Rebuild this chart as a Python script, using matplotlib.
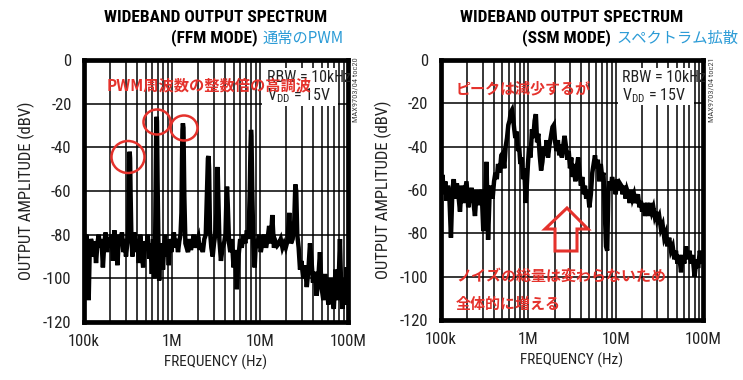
import matplotlib
matplotlib.use("Agg")
import matplotlib.pyplot as plt
from matplotlib import font_manager
from matplotlib.patches import Ellipse, Polygon, Rectangle
from matplotlib.ticker import FixedLocator, LogLocator, NullFormatter, FixedFormatter

# ---------------- data ----------------
# FFM mode spectrum (frequency in kHz, amplitude in dBV)
ffm_freq_khz = [
    100, 103, 106, 110, 113, 116, 120, 124, 128, 132,
    137, 142, 147, 152, 158, 164, 170, 176, 183, 190,
    197, 205, 213, 221, 230, 240, 250, 260, 270, 280,
    290, 300, 310, 318, 322, 326, 330, 334, 338, 345,
    355, 365, 375, 390, 405, 420, 435, 450, 470, 490,
    510, 530, 550, 570, 590, 610, 630, 645, 655, 662,
    668, 675, 685, 700, 715, 730, 750, 770, 790, 810,
    835, 860, 890, 920, 950, 980, 1010, 1050, 1090, 1130,
    1170, 1210, 1250, 1280, 1300, 1315, 1330, 1350, 1380, 1420,
    1470, 1520, 1580, 1640, 1700, 1770, 1840, 1910, 1990, 2070,
    2150, 2240, 2330, 2420, 2500, 2560, 2600, 2640, 2700, 2800,
    2900, 3000, 3100, 3200, 3260, 3300, 3350, 3450, 3600, 3750,
    3900, 4050, 4150, 4220, 4300, 4450, 4600, 4800, 5000, 5200,
    5450, 5700, 5950, 6200, 6500, 6800, 7100, 7400, 7650, 7800,
    7900, 8000, 8150, 8400, 8700, 9000, 9400, 9800, 10200, 10700,
    11200, 11700, 12200, 12700, 13200, 13800, 14400, 15000, 15700, 16400,
    17200, 18000, 18800, 19600, 20500, 21500, 22500, 23500, 24500, 25200,
    25800, 26500, 27500, 28500, 29500, 31000, 32500, 34000, 35500, 37000,
    38500, 40000, 42000, 44000, 46000, 48000, 50000, 52500, 55000, 57500,
    60000, 63000, 66000, 69000, 72000, 75000, 78000, 81000, 84000, 87000,
    90000, 93000, 96000, 100000,
]
ffm_dbv = [
    -84, -92, -80, -86, -110, -88, -82, -84, -90, -83,
    -93, -84, -80, -86, -82, -95, -84, -79, -88, -81,
    -86, -80, -92, -78, -84, -94, -80, -85, -79, -88,
    -82, -90, -84, -78, -62, -48, -42, -45, -60, -80,
    -90, -84, -79, -88, -82, -93, -80, -86, -95, -83,
    -87, -80, -91, -84, -98, -82, -100, -78, -50, -30,
    -26, -28, -55, -82, -101, -88, -92, -84, -96, -86,
    -80, -90, -84, -94, -82, -88, -84, -79, -86, -82,
    -88, -83, -80, -70, -45, -32, -29, -31, -62, -84,
    -86, -88, -82, -87, -84, -80, -86, -83, -81, -87,
    -84, -88, -82, -80, -60, -45, -44, -50, -78, -86,
    -90, -84, -80, -70, -52, -49, -60, -82, -92, -86,
    -84, -80, -64, -58, -66, -84, -88, -82, -95, -87,
    -105, -90, -82, -86, -80, -84, -78, -82, -60, -40,
    -32, -35, -58, -84, -95, -82, -86, -80, -88, -83,
    -80, -86, -82, -76, -84, -71, -86, -83, -85, -84,
    -82, -86, -84, -86, -83, -70, -84, -82, -74, -57,
    -60, -80, -86, -96, -92, -100, -94, -104, -96, -84,
    -92, -102, -97, -108, -100, -88, -104, -110, -98, -106,
    -112, -100, -108, -114, -96, -110, -104, -82, -108, -114,
    -100, -112, -95, -104,
]

# SSM mode spectrum (frequency in kHz, amplitude in dBV)
ssm_freq_khz = [
    100, 104, 108, 112, 116, 120, 125, 130, 135, 140,
    146, 152, 158, 165, 172, 180, 188, 196, 205, 214,
    224, 234, 245, 256, 268, 280, 292, 305, 318, 332,
    346, 360, 375, 390, 405, 420, 435, 450, 470, 490,
    510, 530, 550, 570, 590, 610, 630, 650, 670, 690,
    710, 735, 760, 785, 810, 840, 870, 900, 930, 960,
    990, 1020, 1060, 1100, 1140, 1180, 1220, 1260, 1300, 1350,
    1400, 1450, 1500, 1560, 1620, 1680, 1750, 1820, 1890, 1960,
    2030, 2100, 2180, 2260, 2340, 2420, 2500, 2600, 2700, 2800,
    2900, 3000, 3100, 3200, 3320, 3450, 3580, 3720, 3860, 4000,
    4150, 4300, 4450, 4600, 4800, 5000, 5200, 5400, 5600, 5800,
    6000, 6250, 6500, 6750, 7000, 7250, 7500, 7750, 8000, 8250,
    8500, 8800, 9100, 9400, 9700, 10000, 10400, 10800, 11200, 11600,
    12000, 12500, 13000, 13500, 14000, 14500, 15000, 15600, 16200, 16800,
    17400, 18000, 18700, 19400, 20100, 20800, 21600, 22400, 23200, 24000,
    25000, 26000, 27000, 28000, 29000, 30000, 31500, 33000, 34500, 36000,
    37500, 39000, 41000, 43000, 45000, 47000, 49000, 51000, 53500, 56000,
    58500, 61000, 64000, 67000, 70000, 73000, 76000, 80000, 84000, 88000,
    92000, 96000, 100000,
]
ssm_dbv = [
    -58, -53, -62, -56, -65, -58, -64, -82, -60, -55,
    -64, -57, -62, -70, -58, -66, -61, -56, -68, -63,
    -59, -65, -72, -60, -67, -62, -60, -79, -66, -47,
    -83, -62, -58, -64, -56, -52, -55, -48, -52, -44,
    -43, -50, -40, -36, -30, -28, -24, -23, -27, -32,
    -36, -33, -42, -40, -48, -45, -55, -50, -66, -58,
    -48, -40, -45, -32, -36, -28, -25, -38, -34, -44,
    -51, -47, -40, -44, -37, -45, -39, -35, -31, -30,
    -38, -42, -37, -44, -39, -45, -40, -35, -40, -46,
    -42, -50, -45, -54, -48, -56, -50, -45, -52, -58,
    -54, -62, -58, -64, -60, -68, -62, -52, -48, -44,
    -50, -46, -56, -48, -54, -52, -70, -86, -88, -60,
    -56, -60, -54, -58, -56, -62, -55, -60, -57, -58,
    -62, -58, -64, -60, -62, -66, -60, -64, -62, -66,
    -64, -62, -68, -65, -70, -66, -72, -68, -66, -72,
    -66, -70, -68, -72, -70, -74, -72, -78, -76, -82,
    -80, -86, -82, -88, -86, -92, -88, -94, -90, -98,
    -90, -94, -86, -92, -88, -94, -90, -100, -92, -96,
    -88, -94, -90,
]

x_tick_hz = [1e5, 1e6, 1e7, 1e8]
x_tick_labels = ["100k", "1M", "10M", "100M"]
y_ticks = [0, -20, -40, -60, -80, -100, -120]
y_tick_labels = ["0", "-20", "-40", "-60", "-80", "-100", "-120"]

# ---------------- fonts ----------------
names = {f.name for f in font_manager.fontManager.ttflist}
NARROW = "Liberation Sans"
for cand in ["Roboto Condensed", "Archivo Narrow", "Liberation Sans Narrow",
             "Barlow Semi Condensed", "Asap Condensed"]:
    if cand in names:
        NARROW = cand
        break
JP = "Noto Sans CJK JP"
plt.rcParams["font.family"] = [NARROW, "DejaVu Sans"]
plt.rcParams["mathtext.fontset"] = "custom"
plt.rcParams["mathtext.rm"] = NARROW

W, H = 743, 380
fig = plt.figure(figsize=(W / 100, H / 100), dpi=100)
fig.patch.set_facecolor("white")


def P(x, y):
    return (x / W, 1 - y / H)


RED = "#e5322c"
BLUE = "#2b9bd6"


def make_axes(rect, freq_khz, dbv):
    ax = fig.add_axes(rect)
    f_hz = [v * 1000 for v in freq_khz]
    ax.set_xscale("log")
    ax.set_xlim(1e5, 1e8)
    ax.set_ylim(-120, 0)
    ax.xaxis.set_major_locator(FixedLocator(x_tick_hz))
    ax.xaxis.set_major_formatter(FixedFormatter(x_tick_labels))
    ax.xaxis.set_minor_locator(LogLocator(base=10, subs=range(2, 10), numticks=20))
    ax.xaxis.set_minor_formatter(NullFormatter())
    ax.yaxis.set_major_locator(FixedLocator(y_ticks))
    ax.yaxis.set_major_formatter(FixedFormatter(y_tick_labels))
    ax.grid(True, which="both", axis="x", color="black", linewidth=1.1)
    ax.grid(True, which="major", axis="y", color="black", linewidth=1.1)
    ax.tick_params(which="both", length=0, labelsize=12, pad=9, colors="#222222")
    for s in ax.spines.values():
        s.set_linewidth(3.4)
        s.set_color("black")
    ax.plot(f_hz, dbv, color="black", linewidth=3.2, solid_joinstyle="miter", zorder=3)
    ax.set_xlabel("FREQUENCY (Hz)", fontsize=11, labelpad=4, color="#222222")
    ax.set_ylabel("OUTPUT AMPLITUDE (dBV)", fontsize=12, labelpad=6, color="#222222")
    return ax


ax1 = make_axes([84 / W, 1 - 322 / H, 264 / W, 262 / H], ffm_freq_khz, ffm_dbv)
ax2 = make_axes([441 / W, 1 - 320 / H, 262 / W, 260 / H], ssm_freq_khz, ssm_dbv)

# ---------------- titles ----------------
fig.text(*P(216, 17), "WIDEBAND OUTPUT SPECTRUM", fontsize=12.5, fontweight="bold",
         ha="center", va="center")
fig.text(*P(258, 38), "(FFM MODE)", fontsize=12.5, fontweight="bold", ha="right", va="center")
fig.text(*P(263, 38), "通常のPWM", fontsize=11, color=BLUE, ha="left", va="center",
         family=[JP, "DejaVu Sans"])

fig.text(*P(572, 17), "WIDEBAND OUTPUT SPECTRUM", fontsize=12.5, fontweight="bold",
         ha="center", va="center")
fig.text(*P(611, 38), "(SSM MODE)", fontsize=12.5, fontweight="bold", ha="right", va="center")
fig.text(*P(616, 38), "スペクトラム拡散", fontsize=11, color=BLUE, ha="left", va="center",
         family=[JP, "DejaVu Sans"])

# ---------------- side codes ----------------
fig.text(*P(355, 90), "MAX9703/04 toc20", fontsize=6, color="#444444", rotation=90,
         ha="center", va="center")
fig.text(*P(711, 90), "MAX9703/04 toc21", fontsize=6, color="#444444", rotation=90,
         ha="center", va="center")

# ---------------- RBW boxes ----------------
for (bx0, by0, bx1, by1, tx) in [(262, 68, 338, 106, 267), (618, 68, 694, 105, 622)]:
    fig.patches.append(Rectangle(P(bx0, by1), (bx1 - bx0) / W, (by1 - by0) / H,
                                 transform=fig.transFigure, facecolor="white",
                                 edgecolor="none", zorder=5))
    fig.text(*P(tx, 77), "RBW = 10kHz", fontsize=11.5, ha="left", va="center", zorder=6,
             color="#222222")
    fig.text(*P(tx, 96), r"V$_{\mathrm{DD}}$ = 15V", fontsize=11.5, ha="left", va="center",
             zorder=6, color="#222222")

# ---------------- red annotations ----------------
fig.text(*P(107, 85), "PWM周波数の整数倍の高調波", fontsize=11, fontweight="bold",
         color=RED, ha="left", va="center", family=[JP, "DejaVu Sans"], zorder=8)
for (cx, cy, w, h) in [(128, 157, 33, 32), (157, 122, 27, 25), (184, 128, 27, 25)]:
    fig.patches.append(Ellipse(P(cx, cy), w / W, h / H, transform=fig.transFigure,
                               facecolor="none", edgecolor=RED, linewidth=1.8, zorder=8))

fig.text(*P(456, 88), "ピークは減少するが", fontsize=10.8, fontweight="bold",
         color=RED, ha="left", va="center", family=[JP, "DejaVu Sans"], zorder=8)
fig.text(*P(456, 276), "ノイズの総量は変わらないため", fontsize=10.8, fontweight="bold",
         color=RED, ha="left", va="center", family=[JP, "DejaVu Sans"], zorder=8)
fig.text(*P(456, 304), "全体的に増える", fontsize=10.8, fontweight="bold",
         color=RED, ha="left", va="center", family=[JP, "DejaVu Sans"], zorder=8)

arrow_px = [(567, 208), (588, 229), (577, 229), (577, 251), (555, 251), (555, 229), (545, 229)]
fig.patches.append(Polygon([P(x, y) for x, y in arrow_px], closed=True,
                           transform=fig.transFigure, facecolor="none",
                           edgecolor=RED, linewidth=2.2, zorder=8))

fig.savefig("out.png", dpi=100)
